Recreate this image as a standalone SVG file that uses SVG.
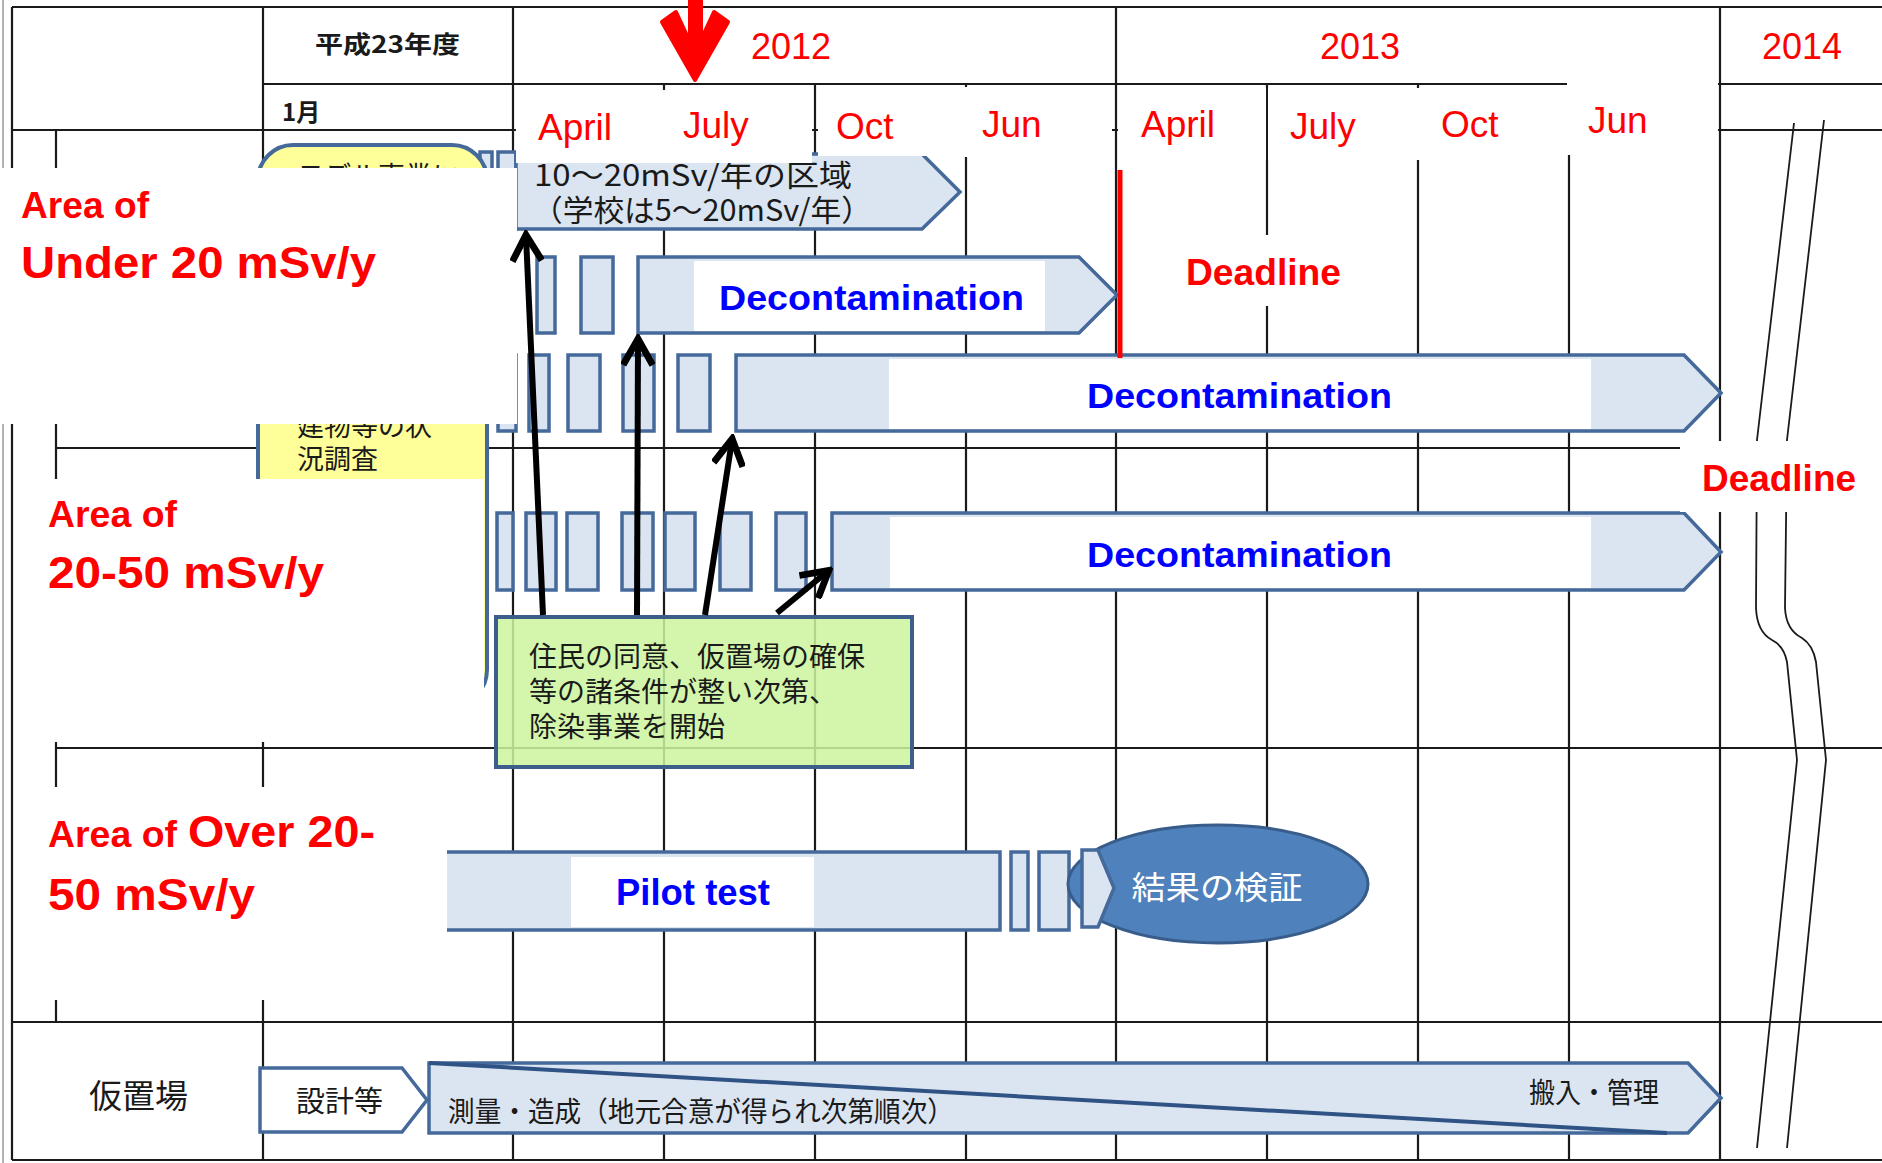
<svg xmlns="http://www.w3.org/2000/svg" width="1882" height="1163" viewBox="0 0 1882 1163">
<style>
.g{stroke:#1a1a1a;stroke-width:2.2;fill:none}
.bar{fill:#dbe5f1;stroke:#44699a;stroke-width:3.5}
.w{fill:#ffffff}
.en{font-family:"Liberation Sans",Arial,sans-serif}
.b{font-weight:bold}
.red{fill:#ff0000}
.blue{fill:#0000ff}
.jp{font-family:"Noto Sans CJK JP",sans-serif;fill:#1a1a1a}
.brk{stroke:#1a1a1a;stroke-width:1.8;fill:none}
.conn{stroke:#000;stroke-width:6;fill:none}
</style>
<defs>
<marker id="ah" markerUnits="userSpaceOnUse" markerWidth="34" markerHeight="34" viewBox="0 0 30 30" refX="25" refY="15" orient="auto">
<path d="M3,2 L26,15 L3,28" fill="none" stroke="#000" stroke-width="6" stroke-linejoin="miter"/>
</marker>
</defs>
<rect width="1882" height="1163" fill="#fff"/>
<g id="grid">
<line x1="3" y1="0" x2="3" y2="1163" stroke="#9a9a9a" stroke-width="1.5"/>
<path class="g" d="M12,7H1882M263,84H1882M12,130H1882M56,448H1882M56,748H1882M12,1022H1882M12,1160H1882"/>
<path class="g" d="M12,7V1160M56,130V1022M263,7V1160M513,7V1160M664,84V1160M815,84V1160M966,84V1160M1116,7V1160M1267,84V1160M1418,84V1160M1569,84V1160M1720,7V1160"/>
</g>
<g id="break-marks">
<path class="brk" d="M1794,123 L1757,440 L1756,608 Q1757,632 1772,640 Q1784,646 1787,662 L1797,760 L1757,1148"/>
<path class="brk" d="M1824,120 L1787,440 L1785,608 Q1786,630 1802,638 Q1813,645 1816,662 L1826,760 L1787,1148"/>
</g>
<g id="bar-10-20">
<rect class="bar" x="480" y="152" width="12" height="77"/>
<rect class="bar" x="498" y="152" width="18" height="77"/>
<polygon class="bar" points="516,154 922,154 960,192 922,229 516,229"/>
<text class="jp" font-size="30"><tspan x="534" y="186" textLength="318" lengthAdjust="spacingAndGlyphs">10～20mSv/年の区域</tspan><tspan x="532" y="221" textLength="340" lengthAdjust="spacingAndGlyphs">（学校は5～20mSv/年）</tspan></text>
</g>
<g id="header-covers">
<rect class="w" x="516" y="90" width="296" height="73"/>
<rect class="w" x="818" y="87" width="145" height="69"/>
<rect class="w" x="963" y="87" width="149" height="70"/>
<rect class="w" x="1118" y="88" width="148" height="72"/>
<rect class="w" x="1268" y="88" width="148" height="72"/>
<rect class="w" x="1416" y="88" width="151" height="72"/>
<rect class="w" x="1567" y="82" width="151" height="73"/>
</g>
<g id="year-labels" class="en red" font-size="36">
<text x="751" y="59">2012</text>
<text x="1320" y="59">2013</text>
<text x="1762" y="59">2014</text>
</g>
<g id="month-labels" class="en red" font-size="37">
<text x="538" y="140">April</text>
<text x="683" y="138">July</text>
<text x="836" y="139">Oct</text>
<text x="982" y="137">Jun</text>
<text x="1141" y="137">April</text>
<text x="1290" y="139">July</text>
<text x="1441" y="137">Oct</text>
<text x="1588" y="133">Jun</text>
</g>
<g id="fiscal-header" class="jp" font-weight="bold" font-size="24">
<text x="315" y="53" textLength="145" lengthAdjust="spacingAndGlyphs">平成23年度</text>
<text x="282" y="121">1月</text>
</g>
<g id="now-marker" fill="#ff0000" stroke="#ff0000" stroke-linejoin="round">
<rect x="688" y="0" width="15" height="62" stroke="none"/>
<polygon points="662,22 676,12 695,53 714,12 728,22 695,80" stroke-width="4"/>
</g>
<g id="survey-box">
<path d="M258,180 A35,35 0 0 1 293,145 L452,145 A35,35 0 0 1 487,180 L487,670 A35,35 0 0 1 452,705 L293,705 A35,35 0 0 1 258,670 Z" fill="#ffff99" stroke="#44699a" stroke-width="4"/>
<text class="jp" x="297" y="186" font-size="27">モデル事業に</text>
<text class="jp" font-size="27"><tspan x="297" y="436">建物等の状</tspan><tspan x="297" y="469">況調査</tspan></text>
</g>
<g id="decon-1">
<rect class="bar" x="537" y="257" width="18" height="76"/>
<rect class="bar" x="581" y="257" width="32" height="76"/>
<polygon class="bar" points="638,257 1079,257 1117,295 1079,333 638,333"/>
<rect class="w" x="694" y="261" width="351" height="70"/>
<text class="en b blue" x="719" y="310" font-size="35" textLength="305" lengthAdjust="spacingAndGlyphs">Decontamination</text>
</g>
<g id="decon-2">
<rect class="bar" x="498" y="355" width="18" height="76"/>
<rect class="bar" x="529" y="355" width="20" height="76"/>
<rect class="bar" x="568" y="355" width="32" height="76"/>
<rect class="bar" x="623" y="355" width="31" height="76"/>
<rect class="bar" x="678" y="355" width="32" height="76"/>
<polygon class="bar" points="736,355 1684,355 1721,393 1684,431 736,431"/>
<rect class="w" x="889" y="359" width="702" height="70"/>
<text class="en b blue" x="1087" y="408" font-size="35" textLength="305" lengthAdjust="spacingAndGlyphs">Decontamination</text>
</g>
<g id="decon-3">
<rect class="bar" x="497" y="513" width="16" height="77"/>
<rect class="bar" x="526" y="513" width="30" height="77"/>
<rect class="bar" x="567" y="513" width="31" height="77"/>
<rect class="bar" x="622" y="513" width="31" height="77"/>
<rect class="bar" x="665" y="513" width="30" height="77"/>
<rect class="bar" x="720" y="513" width="31" height="77"/>
<rect class="bar" x="776" y="513" width="30" height="77"/>
<polygon class="bar" points="832,513 1684,513 1721,552 1684,590 832,590"/>
<rect class="w" x="890" y="517" width="701" height="71"/>
<text class="en b blue" x="1087" y="567" font-size="35" textLength="305" lengthAdjust="spacingAndGlyphs">Decontamination</text>
</g>
<g id="deadline-1">
<line x1="1120" y1="170" x2="1120" y2="358" stroke="#ff0000" stroke-width="5"/>
<rect class="w" x="1175" y="235" width="175" height="71"/>
<text class="en b red" x="1186" y="285" font-size="37" textLength="155" lengthAdjust="spacingAndGlyphs">Deadline</text>
</g>
<g id="deadline-2">
<rect class="w" x="1680" y="441" width="202" height="71"/>
<text class="en b red" x="1702" y="491" font-size="37" textLength="154" lengthAdjust="spacingAndGlyphs">Deadline</text>
</g>
<g id="pilot-test">
<rect class="bar" x="440" y="852" width="560" height="78"/>
<rect class="bar" x="1011" y="852" width="17" height="78"/>
<rect class="bar" x="1039" y="852" width="30" height="78"/>
<rect class="w" x="571" y="857" width="243" height="70"/>
<text class="en b blue" x="616" y="905" font-size="36" textLength="154" lengthAdjust="spacingAndGlyphs">Pilot test</text>
</g>
<g id="verification">
<ellipse cx="1218" cy="884" rx="150" ry="59" fill="#4f81bd" stroke="#385d8a" stroke-width="3"/>
<polygon class="bar" points="1082,850 1098,850 1114,888 1098,927 1082,927"/>
<text x="1217" y="899" font-family="Noto Sans CJK JP,sans-serif" font-size="32" fill="#ffffff" text-anchor="middle" textLength="171" lengthAdjust="spacingAndGlyphs">結果の検証</text>
</g>
<g id="storage">
<text class="jp" x="89" y="1108" font-size="33">仮置場</text>
<polygon points="260,1068 402,1068 427,1100 402,1132 260,1132" fill="#fff" stroke="#44699a" stroke-width="3.5"/>
<text class="jp" x="296" y="1112" font-size="29">設計等</text>
<polygon class="bar" points="429,1063 1688,1063 1721,1098 1688,1133 429,1133"/>
<line x1="429" y1="1063" x2="1667" y2="1133" stroke="#2f5384" stroke-width="4"/>
<text class="jp" x="448" y="1122" font-size="28" textLength="506" lengthAdjust="spacingAndGlyphs">測量・造成（地元合意が得られ次第順次）</text>
<text class="jp" x="1529" y="1103" font-size="28" textLength="130" lengthAdjust="spacingAndGlyphs">搬入・管理</text>
</g>
<g id="label-under-20">
<rect class="w" x="0" y="168" width="517" height="256"/>
<text class="en b red" x="21" y="218" font-size="36" textLength="128" lengthAdjust="spacingAndGlyphs">Area of</text>
<text class="en b red" x="21" y="278" font-size="44" textLength="355" lengthAdjust="spacingAndGlyphs">Under 20 mSv/y</text>
</g>
<g id="label-20-50">
<rect class="w" x="15" y="479" width="469" height="263"/>
<text class="en b red" x="48" y="527" font-size="36" textLength="129" lengthAdjust="spacingAndGlyphs">Area of</text>
<text class="en b red" x="48" y="588" font-size="45" textLength="276" lengthAdjust="spacingAndGlyphs">20-50 mSv/y</text>
</g>
<g id="label-over-20-50">
<rect class="w" x="15" y="787" width="432" height="213"/>
<text class="en b red" x="48" y="847" font-size="36" textLength="129" lengthAdjust="spacingAndGlyphs">Area of</text>
<text class="en b red" x="188" y="847" font-size="45" textLength="187" lengthAdjust="spacingAndGlyphs">Over 20-</text>
<text class="en b red" x="48" y="910" font-size="45" textLength="207" lengthAdjust="spacingAndGlyphs">50 mSv/y</text>
</g>
<g id="condition-note">
<rect x="496" y="617" width="416" height="150" fill="#ccf59e" fill-opacity="0.86" stroke="#3b5e8c" stroke-width="4"/>
<text class="jp" font-size="28"><tspan x="529" y="667">住民の同意、仮置場の確保</tspan><tspan x="529" y="702">等の諸条件が整い次第、</tspan><tspan x="529" y="737">除染事業を開始</tspan></text>
</g>
<g id="connectors">
<line class="conn" x1="543" y1="615" x2="526" y2="236" marker-end="url(#ah)"/>
<line class="conn" x1="637" y1="615" x2="638" y2="340" marker-end="url(#ah)"/>
<line class="conn" x1="705" y1="615" x2="732" y2="440" marker-end="url(#ah)"/>
<line class="conn" x1="777" y1="613" x2="828" y2="571" marker-end="url(#ah)"/>
</g>
</svg>
